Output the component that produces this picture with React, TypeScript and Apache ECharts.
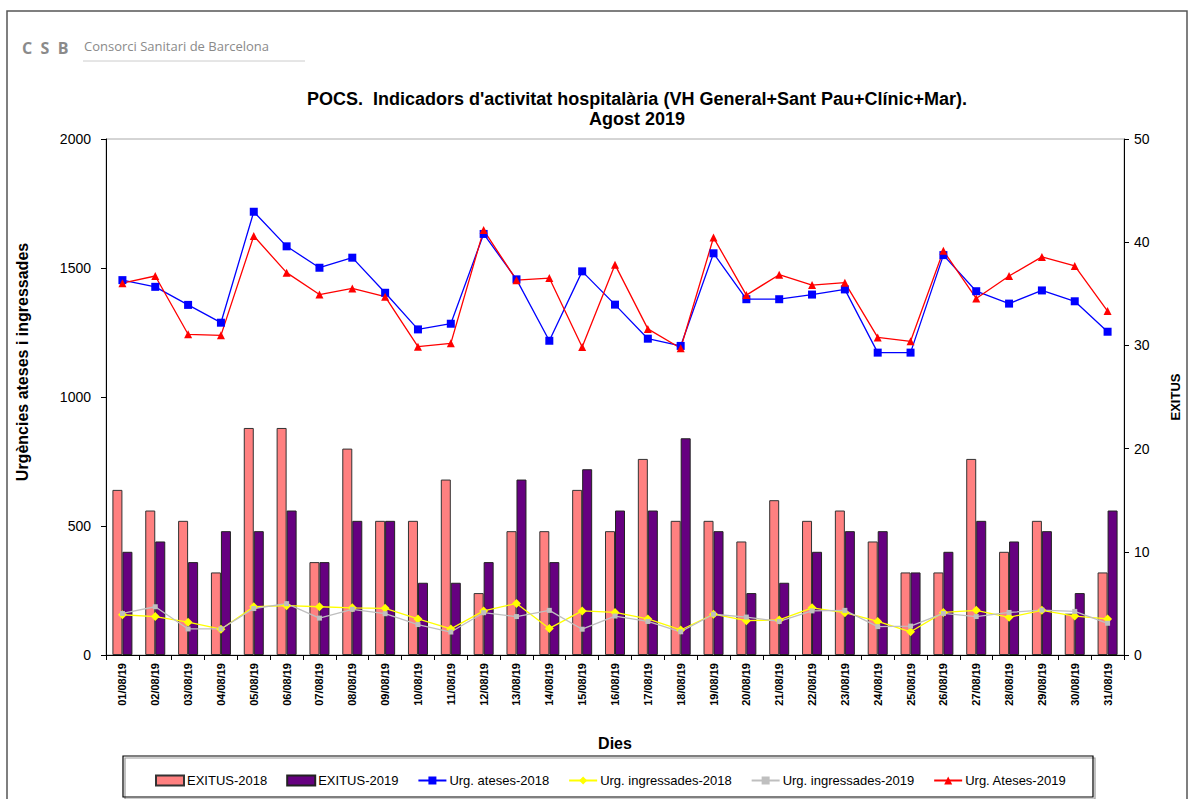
import React, { useEffect, useRef } from "react";
import * as echarts from "echarts";

const days = [
  "01/08/19","02/08/19","03/08/19","04/08/19","05/08/19","06/08/19","07/08/19","08/08/19",
  "09/08/19","10/08/19","11/08/19","12/08/19","13/08/19","14/08/19","15/08/19","16/08/19",
  "17/08/19","18/08/19","19/08/19","20/08/19","21/08/19","22/08/19","23/08/19","24/08/19",
  "25/08/19","26/08/19","27/08/19","28/08/19","29/08/19","30/08/19","31/08/19",
];

const exitus2018 = [16,14,13,8,22,22,9,20,13,13,17,6,12,12,16,12,19,13,13,11,15,13,14,11,8,8,19,10,13,4,8];
const exitus2019 = [10,11,9,12,12,14,9,13,13,7,7,9,17,9,18,14,14,21,12,6,7,10,12,12,8,10,13,11,12,6,14];

const ateses2018 = [1453,1427,1357,1288,1718,1584,1501,1540,1404,1262,1284,1632,1456,1218,1487,1358,1226,1198,1557,1379,1379,1397,1417,1172,1172,1550,1410,1362,1413,1371,1253];
const ingressades2018 = [156,149,127,100,187,191,187,183,181,140,101,171,200,103,171,165,140,97,158,133,136,183,164,130,90,165,173,146,173,151,140];
const ingressades2019 = [161,187,101,101,180,199,143,177,160,118,89,164,149,173,100,151,130,90,158,147,130,171,173,110,112,161,149,165,174,169,123];
const ateses2019 = [1441,1469,1243,1239,1624,1482,1397,1421,1389,1195,1208,1647,1453,1461,1194,1513,1264,1189,1618,1395,1474,1434,1443,1231,1216,1567,1382,1469,1543,1508,1333];

const leftTicks = { min: 0, max: 2000, interval: 500 };
const rightTicks = { min: 0, max: 50, interval: 10 };

const FONT = "'Liberation Sans', Arial, sans-serif";

export default function App() {
  const ref = useRef<HTMLDivElement>(null);
  useEffect(() => {
    document.body.style.margin = "0";
    if (!ref.current) return;
    const chart = echarts.init(ref.current, null, { renderer: "svg" });
    const lineSeries = (name: string, data: number[], color: string, symbol: string, size: number) => ({
      name,
      type: "line",
      yAxisIndex: 0,
      data,
      symbol,
      symbolSize: size,
      lineStyle: { color, width: 1.3 },
      itemStyle: { color },
      z: 5,
    });
    chart.setOption({
      animation: false,
      backgroundColor: "#fff",
      textStyle: { fontFamily: FONT },
      title: {
        text: "POCS.  Indicadors d'activitat hospitalària (VH General+Sant Pau+Clínic+Mar).\nAgost 2019",
        left: 632,
        top: 84,
        textAlign: "center",
        textStyle: { fontFamily: FONT, fontSize: 18, fontWeight: "bold", color: "#000", lineHeight: 20 },
      },
      grid: {
        left: 106,
        right: 58,
        top: 139,
        bottom: 144,
        show: true,
        borderColor: "#aaaaaa",
        borderWidth: 1,
        backgroundColor: "transparent",
      },
      legend: {
        left: 150,
        top: 769,
        itemGap: 19,
        itemWidth: 28,
        itemHeight: 10,
        textStyle: { fontFamily: FONT, fontSize: 13, color: "#000", padding: [0, 0, 0, -2] },
        data: [
          { name: "EXITUS-2018", icon: "rect" },
          { name: "EXITUS-2019", icon: "rect" },
          "Urg. ateses-2018",
          "Urg. ingressades-2018",
          "Urg. ingressades-2019",
          "Urg. Ateses-2019",
        ],
      },
      xAxis: {
        type: "category",
        data: days,
        boundaryGap: true,
        name: "Dies",
        nameLocation: "middle",
        nameGap: 80,
        nameTextStyle: { fontFamily: FONT, fontSize: 16, fontWeight: "bold", color: "#000" },
        axisLine: { lineStyle: { color: "#000", width: 1 } },
        axisTick: { show: true, alignWithLabel: false, interval: 0, length: 5, lineStyle: { color: "#000" } },
        axisLabel: {
          interval: 0,
          rotate: 90,
          margin: 8,
          fontFamily: FONT,
          fontSize: 11,
          fontWeight: "bold",
          color: "#000",
        },
        splitLine: { show: false },
      },
      yAxis: [
        {
          type: "value",
          position: "left",
          ...leftTicks,
          axisLine: { show: true, lineStyle: { color: "#000", width: 1 } },
          axisTick: { show: true, length: 5, lineStyle: { color: "#000" } },
          axisLabel: { fontFamily: FONT, fontSize: 14, color: "#000", margin: 15, formatter: (v: number) => String(v) },
          splitLine: { show: false },
        },
        {
          type: "value",
          position: "right",
          ...rightTicks,
          name: "EXITUS",
          nameLocation: "middle",
          nameGap: 45,
          nameTextStyle: { fontFamily: FONT, fontSize: 13, fontWeight: "bold", color: "#000" },
          axisLine: { show: true, lineStyle: { color: "#000", width: 1 } },
          axisTick: { show: true, length: 5, lineStyle: { color: "#000" } },
          axisLabel: { fontFamily: FONT, fontSize: 14, color: "#000", margin: 10 },
          splitLine: { show: false },
        },
      ],
      series: [
        {
          name: "EXITUS-2018",
          type: "bar",
          yAxisIndex: 1,
          data: exitus2018,
          barWidth: 10,
          barGap: "0%",
          itemStyle: { color: "#FF8080", borderColor: "#333", borderWidth: 1 },
        },
        {
          name: "EXITUS-2019",
          type: "bar",
          yAxisIndex: 1,
          data: exitus2019,
          barWidth: 10,
          barGap: "0%",
          itemStyle: { color: "#660080", borderColor: "#222", borderWidth: 1 },
        },
        lineSeries("Urg. ateses-2018", ateses2018, "#0000FF", "rect", 8),
        lineSeries("Urg. ingressades-2018", ingressades2018, "#FFFF00", "diamond", 9),
        lineSeries("Urg. ingressades-2019", ingressades2019, "#BFBFBF", "rect", 5),
        lineSeries("Urg. Ateses-2019", ateses2019, "#FF0000", "triangle", 8),
      ],
      graphic: [
        {
          type: "rect",
          shape: { x: 7, y: 11, width: 1180, height: 800 },
          style: { fill: "none", stroke: "#555", lineWidth: 1.5 },
          silent: true,
          z: -10,
        },
        {
          type: "text",
          x: 22,
          y: 40,
          style: { text: "C  S  B", fill: "#8a8a8a", font: "bold 16px 'Open Sans', sans-serif" },
        },
        {
          type: "text",
          x: 84,
          y: 39,
          style: { text: "Consorci Sanitari de Barcelona", fill: "#8a8a8a", font: "13px 'Open Sans', sans-serif" },
        },
        {
          type: "line",
          shape: { x1: 83, y1: 61, x2: 305, y2: 61 },
          style: { stroke: "#cccccc", lineWidth: 1 },
        },
        {
          type: "text",
          x: 22,
          y: 362,
          rotation: Math.PI / 2,
          style: {
            text: "Urgències ateses i ingressades",
            fill: "#000",
            font: "bold 16px 'Liberation Sans', Arial, sans-serif",
            textAlign: "center",
            textVerticalAlign: "middle",
          },
        },
        {
          type: "rect",
          shape: { x: 123, y: 756, width: 970, height: 41 },
          style: { fill: "none", stroke: "#000", lineWidth: 1.2, shadowColor: "rgba(0,0,0,0.4)", shadowOffsetX: 2, shadowOffsetY: 2 },
          z: -5,
        },
      ],
    });
    return () => chart.dispose();
  }, []);
  return <div ref={ref} style={{ width: 1190, height: 799 }} />;
}
